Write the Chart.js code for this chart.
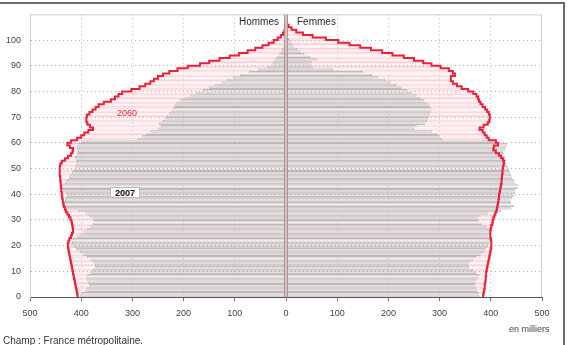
<!DOCTYPE html>
<html><head><meta charset="utf-8">
<script src="https://cdn.jsdelivr.net/npm/chart.js@4"></script>
<style>
html,body{margin:0;padding:0;background:#fff;}
#wrap{position:relative;width:569px;height:345px;overflow:hidden;font-family:"Liberation Sans",Arial,sans-serif;}
#frame{position:absolute;left:-4px;top:2px;width:567px;height:400px;border-top:2px solid #6a6a6a;border-right:2px solid #6a6a6a;}
canvas{position:absolute;left:0;top:0;}
.lbl{position:absolute;white-space:nowrap;line-height:1;}
</style></head>
<body><div id="wrap"><div id="frame"></div><canvas id="c" width="569" height="345"></canvas>
<div class="lbl" style="left:239px;top:17px;font-size:10px;color:#2a2a2a;">Hommes</div>
<div class="lbl" style="left:297px;top:17px;font-size:10px;color:#2a2a2a;">Femmes</div>
<div class="lbl" style="left:117px;top:109px;font-size:9px;color:#e8283a;">2060</div>
<div class="lbl" style="left:110px;top:187px;width:30px;height:11px;background:#fff;border:1px solid #bbb;box-sizing:border-box;font-size:9px;font-weight:bold;color:#111;text-align:center;line-height:10px;">2007</div>
<div class="lbl" style="left:509px;top:325px;font-size:9px;color:#444;">en milliers</div>
<div class="lbl" style="left:3px;top:336px;font-size:10px;color:#333;">Champ : France métropolitaine.</div>
</div>
<script>
// Categories: single years of age
const ages = Array.from({length: 108}, (_, i) => i);
const xTickValues = [-500, -400, -300, -200, -100, 0, 100, 200, 300, 400, 500];

// 2007 population (thousands), ages 0..100
const hommes2007 = [
  402, 398, 392, 388, 385, 386, 388, 390, 388, 382,
  377, 374, 373, 376, 382, 389, 396, 403, 410, 414,
  418, 418, 416, 408, 400, 396, 388, 382, 377, 376,
  377, 383, 392, 405, 430, 437, 436, 432, 430, 428,
  430, 436, 442, 438, 432, 428, 424, 421, 418, 415,
  412, 410, 408, 410, 412, 408, 406, 408, 408, 405,
  400, 290, 281, 272, 265, 250, 244, 248, 240, 236,
  232, 228, 224, 220, 218, 214, 208, 198, 188, 176,
  162, 150, 138, 126, 115, 103, 90, 72, 55, 35,
  28, 24, 21, 17, 13, 10, 7, 5, 4, 2, 1
];
const femmes2007 = [
  378, 376, 374, 372, 370, 370, 372, 376, 378, 372,
  365, 358, 356, 358, 365, 372, 380, 386, 390, 393,
  395, 396, 398, 395, 398, 402, 400, 392, 382, 376,
  374, 378, 395, 420, 440, 445, 440, 438, 442, 445,
  447, 448, 452, 453, 448, 445, 442, 440, 438, 436,
  434, 432, 428, 430, 428, 425, 424, 428, 430, 432,
  410, 305, 300, 295, 285, 250, 255, 272, 275, 278,
  280, 282, 284, 283, 280, 276, 270, 262, 255, 245,
  236, 226, 215, 205, 193, 180, 168, 150, 92, 52,
  48, 50, 60, 48, 36, 28, 22, 16, 12, 9, 6
];
// 2060 projection (thousands), ages 0..107
const hommes2060 = [
  407, 408, 409, 410, 411, 412, 413, 414, 415, 416,
  417, 418, 419, 420, 421, 422, 423, 424, 425, 426,
  426, 425, 423, 420, 418, 416, 416, 417, 418, 419,
  421, 424, 427, 430, 432, 434, 435, 436, 437, 438,
  438, 439, 439, 440, 440, 441, 441, 442, 442, 442,
  442, 441, 438, 432, 426, 420, 417, 416, 422, 427,
  420, 408, 400, 394, 386, 377, 383, 388, 390, 390,
  389, 384, 378, 372, 366, 356, 342, 334, 327, 320,
  302, 286, 275, 265, 258, 250, 240, 228, 212, 192,
  168, 150, 130, 110, 92, 75, 60, 46, 34, 24,
  16, 10, 6, 3, 2, 1, 0, 0
];
const femmes2060 = [
  385, 386, 387, 388, 388, 389, 390, 390, 391, 391,
  392, 393, 394, 395, 396, 397, 398, 399, 400, 401,
  401, 401, 400, 399, 399, 399, 400, 401, 403, 404,
  405, 407, 409, 411, 412, 413, 414, 415, 416, 416,
  417, 418, 419, 420, 421, 421, 422, 422, 423, 423,
  424, 425, 426, 424, 420, 416, 410, 405, 406, 414,
  410, 396, 392, 388, 384, 378, 386, 394, 397, 398,
  398, 396, 393, 389, 384, 380, 377, 375, 372, 366,
  356, 343, 334, 326, 322, 322, 330, 326, 318, 302,
  284, 268, 250, 230, 208, 188, 166, 145, 124, 102,
  78, 52, 33, 20, 11, 5, 2, 1
];

const barPts = (arr, sign) => arr.map((v, i) => ({x: sign * v, y: ages[i] + 0.5}));
const stepPts = (arr, sign) => arr.map((v, i) => ({x: sign * v, y: ages[i]})).concat([{x: 0, y: ages[arr.length - 1] + 1}]);

const grey = {backgroundColor: '#dedede', borderColor: '#9a9a9a', borderWidth: 0.6, barPercentage: 0.86, categoryPercentage: 1, grouped: false, order: 2, borderSkipped: 'start'};
const pink = {backgroundColor: 'rgba(255,240,242,0.5)', borderColor: '#f7bcc4', borderWidth: 0.6, barPercentage: 0.8, categoryPercentage: 1, grouped: false, order: 3, borderSkipped: 'start'};
const red = {type: 'line', borderColor: '#e8223a', borderWidth: 2, pointRadius: 0, fill: false, stepped: 'after', order: 0, indexAxis: 'y'};

const framePlugin = {
  id: 'frame',
  beforeDatasetsDraw(chart) {
    const {ctx, chartArea: a} = chart;
    ctx.save();
    ctx.strokeStyle = '#cfcfcf'; ctx.lineWidth = 1;
    ctx.beginPath();
    ctx.moveTo(a.left + 0.5, a.bottom); ctx.lineTo(a.left + 0.5, a.top + 0.5);
    ctx.lineTo(a.right - 0.5, a.top + 0.5); ctx.lineTo(a.right - 0.5, a.bottom);
    ctx.stroke(); ctx.restore();
  },
  afterDatasetsDraw(chart) {
    const {ctx, chartArea: a} = chart;
    const x0 = chart.scales.x.getPixelForValue(0);
    ctx.save();
    ctx.fillStyle = '#e7b9bf';
    ctx.fillRect(x0 - 1.5, a.top, 3, a.bottom - a.top);
    ctx.strokeStyle = '#8f8f8f'; ctx.lineWidth = 0.8;
    ctx.beginPath();
    ctx.moveTo(x0 - 1.5, a.top); ctx.lineTo(x0 - 1.5, a.bottom);
    ctx.moveTo(x0 + 1.5, a.top); ctx.lineTo(x0 + 1.5, a.bottom);
    ctx.stroke(); ctx.restore();
  }
};

new Chart(document.getElementById('c'), {
  type: 'bar',
  data: {
    datasets: [
      Object.assign({label: 'Hommes 2060 contour', data: stepPts(hommes2060, -1)}, red),
      Object.assign({label: 'Femmes 2060 contour', data: stepPts(femmes2060, 1)}, red),
      Object.assign({label: 'Hommes 2007', data: barPts(hommes2007, -1)}, grey),
      Object.assign({label: 'Femmes 2007', data: barPts(femmes2007, 1)}, grey),
      Object.assign({label: 'Hommes 2060', data: barPts(hommes2060, -1)}, pink),
      Object.assign({label: 'Femmes 2060', data: barPts(femmes2060, 1)}, pink)
    ]
  },
  options: {
    indexAxis: 'y',
    responsive: false,
    animation: false,
    devicePixelRatio: 1,
    layout: {padding: {left: 0, right: 27, top: 12, bottom: 0}},
    plugins: {legend: {display: false}, tooltip: {enabled: false}},
    scales: {
      x: {
        type: 'linear', min: -500, max: 500,
        afterBuildTicks: s => { s.ticks = xTickValues.map(v => ({value: v})); },
        afterFit: s => { s.height = 48; },
        border: {color: '#555', width: 1, dash: [1, 3]},
        grid: {
          color: c => (c.tick && (c.tick.value === 0 || Math.abs(c.tick.value) === 500)) ? 'rgba(0,0,0,0)' : '#b4b4b4',
          tickColor: '#777', tickLength: 4, tickBorderDash: [0, 0]
        },
        ticks: {callback: v => String(Math.abs(v)), color: '#444', font: {family: 'Liberation Sans, Arial', size: 9}, padding: 7, maxRotation: 0, autoSkip: false}
      },
      y: {
        type: 'linear', min: 0, max: 110, offset: false,
        afterFit: s => { s.width = 30; },
        border: {color: '#cfcfcf', width: 1, dash: [1, 3]},
        grid: {offset: false, drawTicks: false, color: c => (c.tick && (c.tick.value === 0 || c.tick.value === 110)) ? 'rgba(0,0,0,0)' : '#b4b4b4'},
        ticks: {stepSize: 10, callback: v => v > 100 ? '' : String(v), color: '#444', font: {family: 'Liberation Sans, Arial', size: 9}, padding: 9}
      }
    }
  },
  plugins: [framePlugin]
});
</script>
</body></html>
